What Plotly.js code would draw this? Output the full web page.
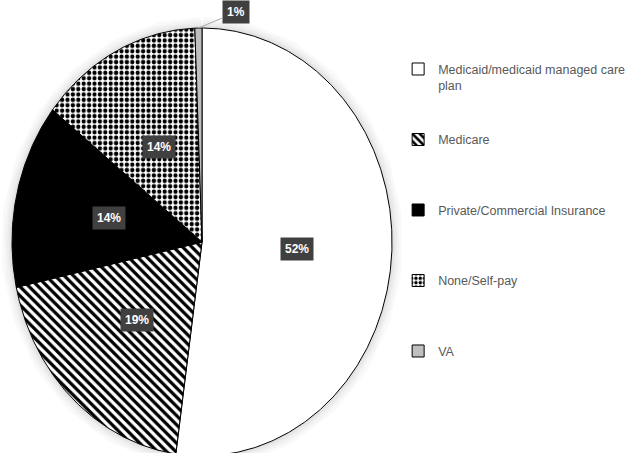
<!DOCTYPE html>
<html><head><meta charset="utf-8">
<script src="https://cdn.plot.ly/plotly-3.0.1.min.js"></script>
<style>html,body{margin:0;padding:0;background:#fff}</style>
</head><body><div id="chart" style="width:625px;height:453px"></div>
<script>
// ---- data ----
const categories = ["Medicaid/medicaid managed care plan", "Medicare", "Private/Commercial Insurance", "None/Self-pay", "VA"];
const legendLabels = ["Medicaid/medicaid managed care<br>plan", "Medicare<br>\u00a0", "Private/Commercial Insurance<br>\u00a0", "None/Self-pay<br>\u00a0", "VA<br>\u00a0"];
const values = [52.2, 19.4, 14.0, 13.8, 0.6];

// ---- styles ----
const fills = ["#ffffff", "#ffffff", "#000000", "#ffffff", "#bfbfbf"];
const patterns = [
  {shape: ""},
  {shape: "\\", fgcolor: "#000000", bgcolor: "#ffffff", size: 6.5, solidity: 0.5},
  {shape: ""},
  {shape: ".", fgcolor: "#000000", bgcolor: "#ffffff", size: 5.4, solidity: 0.5},
  {shape: ""}
];

const total = values.reduce((a, b) => a + b, 0);
const traces = [];
const annotations = [];

// soft glow/shadow around the pie outline
const ringX = [], ringY = [];
for (let k = 0; k <= 720; k++) { const a = k / 720 * 2 * Math.PI; ringX.push(Math.sin(a)); ringY.push(Math.cos(a)); }
[22, 16, 11, 7, 4].forEach(w => traces.push({type: "scatter", mode: "lines", x: ringX, y: ringY,
  line: {color: "rgba(0,0,0,0.022)", width: w}, hoverinfo: "skip", showlegend: false}));

let cum = 0;
values.forEach((v, i) => {
  const a0 = cum / total * 2 * Math.PI;
  const a1 = (cum + v) / total * 2 * Math.PI;
  cum += v;
  const n = Math.max(2, Math.ceil((a1 - a0) / (Math.PI / 360)));
  const xs = [0], ys = [0];
  for (let k = 0; k <= n; k++) {
    const a = a0 + (a1 - a0) * k / n;
    xs.push(Math.sin(a)); ys.push(Math.cos(a));
  }
  xs.push(0); ys.push(0);
  const t = {
    type: "scatter", mode: "lines", x: xs, y: ys, fill: "toself",
    fillcolor: fills[i], line: {color: "#000000", width: 1},
    hoverinfo: "skip", showlegend: false
  };
  if (patterns[i].shape) t.fillpattern = patterns[i];
  traces.push(t);

  const mid = (a0 + a1) / 2;
  const pct = Math.round(v / total * 100) + "%";
  const lab = {
    text: "<b>" + pct + "</b>", xref: "x", yref: "y",
    font: {family: "Liberation Sans, Arial, sans-serif", size: 12, color: "#ffffff"},
    bgcolor: "#404040", borderpad: 4
  };
  if (v / total < 0.03) {
    Object.assign(lab, {x: Math.sin(mid), y: Math.cos(mid), showarrow: true, arrowhead: 0,
      arrowcolor: "#a6a6a6", arrowwidth: 1, ax: 38, ay: -16, standoff: 0});
  } else {
    Object.assign(lab, {x: 0.5 * Math.sin(mid), y: 0.5 * Math.cos(mid), showarrow: false});
  }
  annotations.push(lab);
});

// legend proxies
categories.forEach((c, i) => {
  const m = {color: fills[i], line: {color: "#000000", width: 1}};
  if (patterns[i].shape) m.pattern = patterns[i];
  traces.push({type: "bar", x: [null], y: [null], name: legendLabels[i], marker: m,
    legendgroup: "g" + i, showlegend: true, hoverinfo: "skip"});
});

const layout = {
  width: 625, height: 453, autosize: false,
  margin: {l: 0, r: 0, t: 0, b: 0, autoexpand: false},
  paper_bgcolor: "#ffffff", plot_bgcolor: "#ffffff",
  xaxis: {range: [-1.063, 2.226], visible: false, fixedrange: true},
  yaxis: {range: [-0.986, 1.131], visible: false, fixedrange: true},
  showlegend: true,
  legend: {
    x: 0.637, xanchor: "left", y: 0.88, yanchor: "top",
    orientation: "v", valign: "top", tracegroupgap: 35,
    font: {family: "Liberation Sans, Arial, sans-serif", size: 12.5, color: "#595959"},
    bgcolor: "rgba(0,0,0,0)"
  },
  annotations: annotations
};
Plotly.newPlot("chart", traces, layout, {displayModeBar: false, staticPlot: true});
</script></body></html>
